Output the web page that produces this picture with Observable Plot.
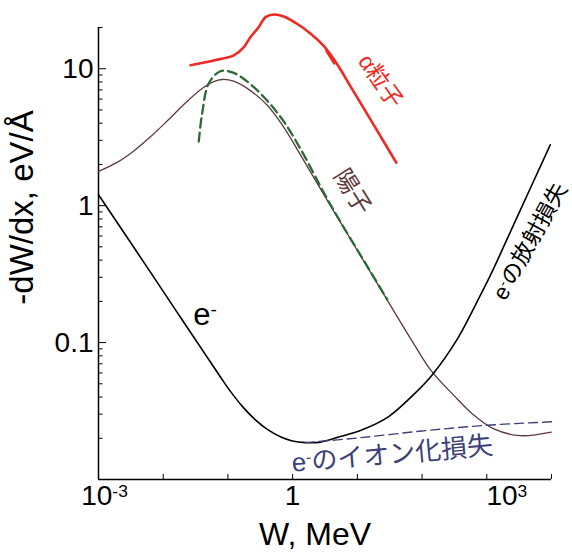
<!DOCTYPE html>
<html><head><meta charset="utf-8">
<script src="https://cdn.jsdelivr.net/npm/d3@7"></script>
<script src="https://cdn.jsdelivr.net/npm/@observablehq/plot@0.6"></script>
<style>body{margin:0;background:#fff;}</style>
</head><body><div id="chart"></div>
<script>
// ---- data (W in MeV, -dW/dx in eV/Å) ----
const electronW = [0.001, 0.0071, 0.01845, 0.0376, 0.0766, 0.1093, 0.1735, 0.266, 0.4074, 0.647, 0.991, 1.574, 2.68, 5.46, 11.9, 30.1, 73.3, 139, 350, 794, 1175, 2965, 9570];
const electronV = [1.2, 0.302, 0.153, 0.0927, 0.0561, 0.044, 0.0335, 0.02726, 0.0232, 0.0205, 0.0191, 0.0186, 0.01875, 0.0206, 0.0231, 0.0287, 0.0415, 0.057, 0.106, 0.221, 0.32, 0.832, 2.78];

const ionW = [1.57, 10, 100, 1000, 10000];
const ionV = [0.0186, 0.0201, 0.0226, 0.0249, 0.0264];

const protonW = [0.001, 0.00194, 0.00351, 0.00635, 0.0115, 0.0208, 0.0376, 0.0604, 0.0813, 0.1229, 0.2226, 0.403, 0.728, 1.32, 3.83, 16.9, 29, 73.3, 139, 304, 619, 1259, 3289, 9900];
const protonV = [1.78, 2.07, 2.51, 3.18, 4.15, 5.47, 7.03, 8.05, 8.34, 8.11, 6.92, 5.43, 3.75, 2.35, 1.0, 0.312, 0.204, 0.0992, 0.0621, 0.0415, 0.0297, 0.0235, 0.0209, 0.0222];

const betheW = [0.0354, 0.04, 0.0505, 0.0766, 0.123, 0.2226, 0.403, 0.728, 1.32, 3.83, 16.9, 29];
const betheV = [2.94, 4.72, 7.8, 9.59, 9.32, 7.72, 5.85, 4.12, 2.6, 1.02, 0.315, 0.206];

const alphaW = [0.0264, 0.0604, 0.123, 0.175, 0.222, 0.299, 0.38, 0.51, 0.728, 1.17, 1.88, 3.02, 3.83, 5.46, 7.79, 12.5, 22.6, 40];
const alphaV = [10.6, 11.5, 12.5, 14.3, 17.0, 20.1, 23.8, 24.9, 24.1, 21.3, 18.1, 14.7, 12.75, 9.92, 7.46, 5.16, 3.23, 2.06];
const alphaGlitchW = [3.32, 4.41];
const alphaGlitchV = [13.5, 10.9];

const xTicks = [1e-3, 1e-2, 1e-1, 1, 10, 100, 1e3, 1e4];
const xTickLabelA = "10{-3}";
const xTickLabelB = "1";
const xTickLabelC = "10{3}";
const yMajorTicks = [0.1, 1, 10];
const yTickLabels = ["0.1", "1", "10"];
const yMinorTicks = [0.02,0.03,0.04,0.05,0.06,0.07,0.08,0.09,0.2,0.3,0.4,0.5,0.6,0.7,0.8,0.9,2,3,4,5,6,7,8,9,20];

const xTitle = "W, MeV";
const yTitle = "-dW/dx, eV/Å";
const labelAlpha = "α粒子";
const labelProton = "陽子";
const labelRad = "e{-}の放射損失";
const labelIon = "e{-}のイオン化損失";
const labelE = "e{-}";

const rows = (W, V) => W.map((w, i) => ({W: w, V: V[i]}));

const sans = "'Liberation Sans', Arial, 'Noto Sans CJK JP', sans-serif";

const chart = Plot.plot({
  width: 572, height: 554,
  marginLeft: 98, marginRight: 21, marginTop: 27, marginBottom: 75,
  style: {fontFamily: sans, background: "white", overflow: "visible"},
  x: {type: "log", domain: [1e-3, 1e4], label: null},
  y: {type: "log", domain: [0.01, 20], label: null},
  marks: [
    // ticks (inward)
    Plot.axisX({ticks: xTicks, tickSize: 5, dy: -5, tickFormat: () => "", label: null}),
    Plot.axisY({ticks: yMajorTicks, tickSize: 8, dx: 8, tickFormat: () => "", label: null}),
    Plot.axisY({ticks: yMinorTicks, tickSize: 4.5, dx: 4.5, tickFormat: () => "", label: null}),
    // tick labels
    Plot.axisX({ticks: [1e-3], tickSize: 0, tickPadding: 6, dx: 6, tickFormat: () => xTickLabelA, fontSize: 28, label: null}),
    Plot.axisX({ticks: [1], tickSize: 0, tickPadding: 6, tickFormat: () => xTickLabelB, fontSize: 28, label: null}),
    Plot.axisX({ticks: [1e3], tickSize: 0, tickPadding: 6, dx: 20, tickFormat: () => xTickLabelC, fontSize: 28, label: null}),
    Plot.axisY({ticks: yMajorTicks, tickSize: 0, tickPadding: 5, tickFormat: d => yTickLabels[yMajorTicks.indexOf(d)], fontSize: 28, label: null}),
    // axis lines
    Plot.ruleX([1e-3], {stroke: "black", strokeWidth: 1.5}),
    Plot.ruleY([0.01], {stroke: "black", strokeWidth: 1.5}),
    // curves
    Plot.line(rows(protonW, protonV), {x: "W", y: "V", stroke: "#5e3a3a", strokeWidth: 1.3, curve: "catmull-rom"}),
    Plot.line(rows(betheW, betheV), {x: "W", y: "V", stroke: "#2b6a36", strokeWidth: 2.3, strokeDasharray: "9,5", curve: "catmull-rom"}),
    Plot.line(rows(electronW, electronV), {x: "W", y: "V", stroke: "black", strokeWidth: 1.6, curve: "catmull-rom"}),
    Plot.line(rows(ionW, ionV), {x: "W", y: "V", stroke: "#3d4178", strokeWidth: 1.4, strokeDasharray: "9,5", curve: "catmull-rom"}),
    Plot.line(rows(alphaW, alphaV), {x: "W", y: "V", stroke: "#ee2a24", strokeWidth: 2.6, curve: "catmull-rom"}),
    Plot.line(rows(alphaGlitchW, alphaGlitchV), {x: "W", y: "V", stroke: "#ee2a24", strokeWidth: 2.4}),
    // titles
    Plot.text([xTitle], {text: d => d, frameAnchor: "bottom", textAnchor: "middle", lineAnchor: "bottom", dx: -10, dy: 65, fontSize: 32, fill: "black"}),
    Plot.text([yTitle], {text: d => d, frameAnchor: "left", textAnchor: "middle", lineAnchor: "middle", rotate: -90, dx: -76, dy: -46, fontSize: 33, fill: "black"}),
    // annotations
    Plot.text([{W: 22.6, V: 8.1, t: labelAlpha}], {x: "W", y: "V", text: "t", rotate: 55, fontSize: 23, fill: "#ee2a24"}),
    Plot.text([{W: 8.37, V: 1.26, t: labelProton}], {x: "W", y: "V", text: "t", rotate: 58, fontSize: 24, fill: "#5e3a3a"}),
    Plot.text([{W: 4698, V: 0.547, t: labelRad}], {x: "W", y: "V", text: "t", rotate: -61, fontSize: 22.5, fill: "black"}),
    Plot.text([{W: 34.8, V: 0.0152, t: labelIon}], {x: "W", y: "V", text: "t", rotate: -5, fontSize: 26, fill: "#3d4178"}),
    Plot.text([{W: 0.0442, V: 0.158, t: labelE}], {x: "W", y: "V", text: "t", fontSize: 31, fill: "black"})
  ]
});

document.getElementById("chart").appendChild(chart);

// superscripts: text of the form base{sup}rest
d3.select(chart).selectAll("text").each(function() {
  const s = this.textContent;
  const m = /^(.*?)\{(.*?)\}(.*)$/.exec(s);
  if (!m) return;
  const F = parseFloat(getComputedStyle(this).fontSize) || 16;
  this.textContent = "";
  const sel = d3.select(this);
  sel.append("tspan").text(m[1]);
  sel.append("tspan").attr("font-size", 0.62 * F).attr("dy", -0.3 * F).text(m[2]);
  if (m[3]) sel.append("tspan").attr("dy", 0.3 * F).text(m[3]);
});
</script>
</body></html>
